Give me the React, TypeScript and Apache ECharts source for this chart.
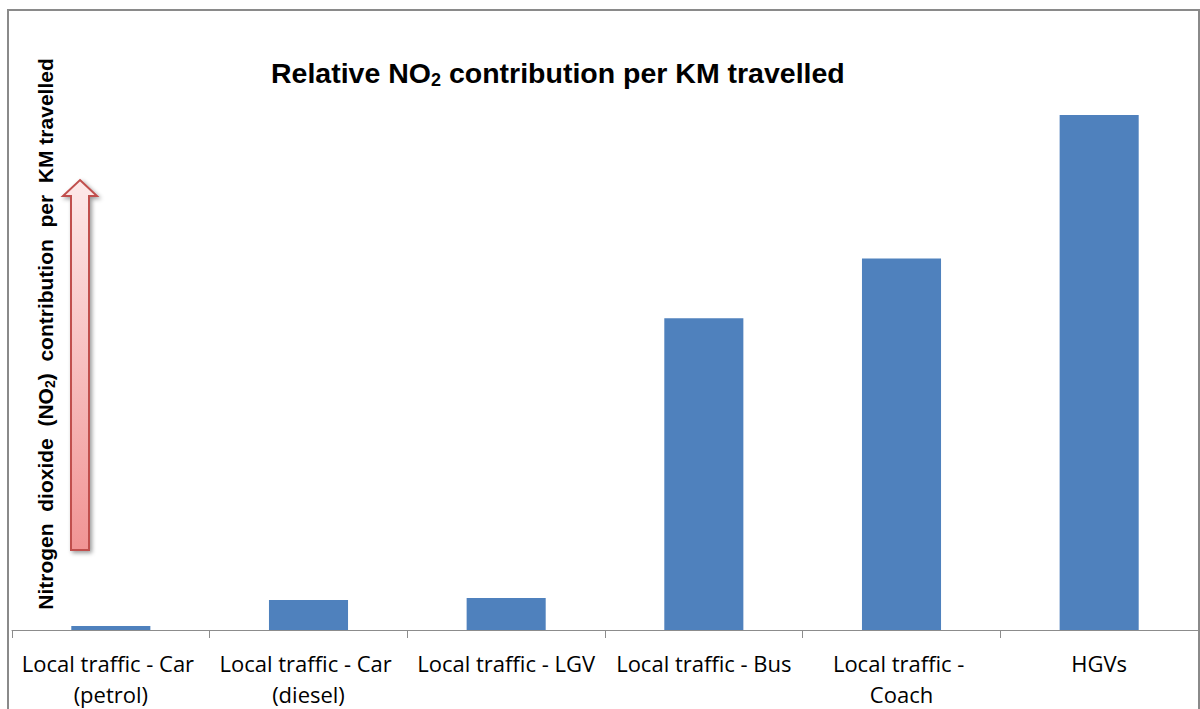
import React, { useEffect, useRef } from "react";
import * as echarts from "echarts";

const categories: string[] = [
  "Local traffic - Car (petrol)",
  "Local traffic - Car (diesel)",
  "Local traffic - LGV",
  "Local traffic - Bus",
  "Local traffic - Coach",
  "HGVs",
];
const values: number[] = [4, 30, 32, 313, 373, 517];
const yMax = 532;

const titleText = "Relative NO{sub|2} contribution per KM travelled";
const yNameText = "Nitrogen  dioxide  (NO{sub|2})  contribution  per  KM travelled";

export default function App() {
  const ref = useRef<HTMLDivElement>(null);
  useEffect(() => {
    if (!ref.current) return;
    const chart = echarts.init(ref.current, null, { renderer: "svg" });
    chart.setOption({
      animation: false,
      backgroundColor: "#ffffff",
      grid: { left: 12, right: 2, top: 100, bottom: 77 },
      title: {
        text: titleText,
        left: 266,
        top: 52,
        textStyle: {
          fontFamily: "Liberation Sans",
          fontWeight: "bold",
          fontSize: 28.5,
          color: "#000",
          rich: {
            sub: {
              fontFamily: "Liberation Sans",
              fontWeight: "bold",
              fontSize: 18,
              padding: [14, 0, 0, 0],
              color: "#000",
            },
          },
        },
      },
      xAxis: {
        type: "category",
        data: categories,
        axisLine: { lineStyle: { color: "#8c8c8c", width: 1 } },
        axisTick: { show: true, length: 8, lineStyle: { color: "#8c8c8c" } },
        axisLabel: {
          interval: 0,
          margin: 17,
          fontFamily: "Open Sans",
          fontSize: 22,
          lineHeight: 31,
          color: "#000",
          width: 190,
          overflow: "break",
        },
      },
      yAxis: {
        type: "value",
        min: 0,
        max: yMax,
        axisLine: { show: false },
        axisTick: { show: false },
        axisLabel: { show: false },
        splitLine: { show: false },
      },
      series: [
        {
          type: "bar",
          data: values,
          barWidth: "40%",
          itemStyle: { color: "#4f81bd" },
        },
      ],
      graphic: [
        {
          type: "rect",
          shape: { x: 8, y: 10, width: 1191, height: 720 },
          style: { fill: "none", stroke: "#8a8a8a", lineWidth: 2 },
          silent: true,
        },
        {
          type: "polygon",
          shape: {
            points: [
              [80, 180],
              [97, 196],
              [89, 196],
              [89, 550],
              [71, 550],
              [71, 196],
              [63, 196],
            ],
          },
          style: {
            fill: new echarts.graphic.LinearGradient(0, 0, 0, 1, [
              { offset: 0, color: "#fde9e9" },
              { offset: 1, color: "#f19494" },
            ]),
            stroke: "#c0504d",
            lineWidth: 2,
            shadowBlur: 4,
            shadowOffsetX: 2,
            shadowOffsetY: 2,
            shadowColor: "rgba(0,0,0,0.4)",
          },
        },
        {
          type: "text",
          x: 45,
          y: 334,
          rotation: Math.PI / 2,
          style: {
            text: yNameText,
            fontFamily: "Liberation Sans",
            fontWeight: "bold",
            fontSize: 21,
            fill: "#000",
            align: "center",
            verticalAlign: "middle",
            rich: {
              sub: {
                fontFamily: "Liberation Sans",
                fontWeight: "bold",
                fontSize: 14,
                fill: "#000",
                padding: [10, 0, 0, 0],
              },
            },
          },
        },
      ],
    });
    return () => chart.dispose();
  }, []);
  return (
    <div
      ref={ref}
      style={{ position: "fixed", left: 0, top: 0, width: 1200, height: 709 }}
    />
  );
}
